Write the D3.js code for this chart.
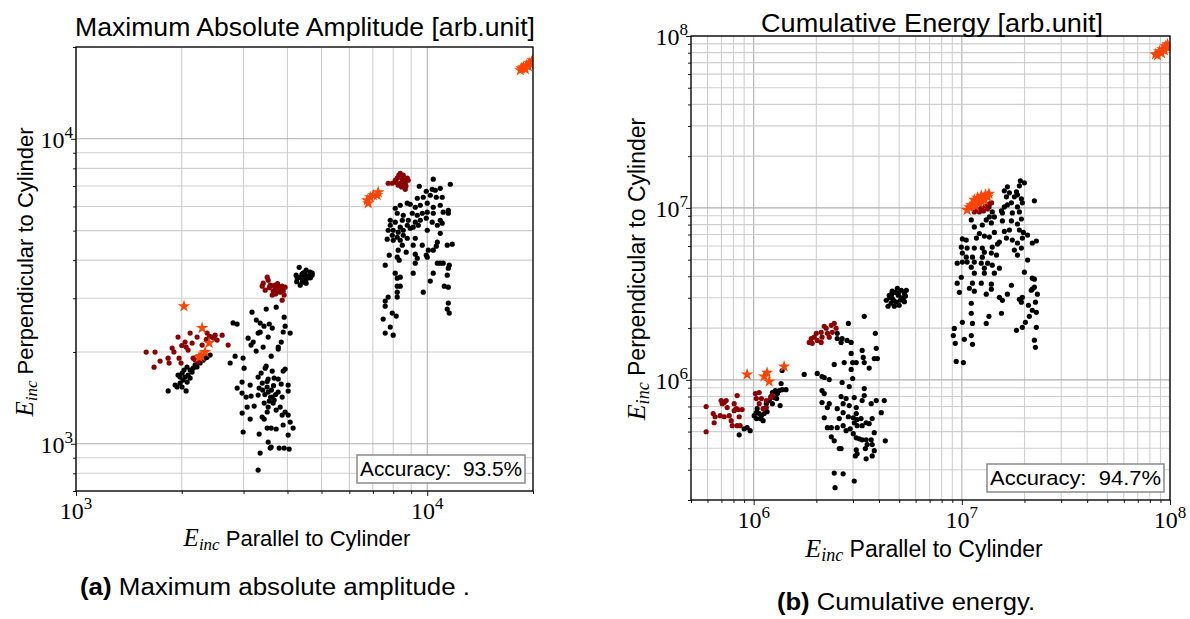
<!DOCTYPE html>
<html>
<head>
<meta charset="utf-8">
<script src="https://cdn.jsdelivr.net/npm/d3@7"></script>
<style>
    body { margin: 0; background: #fff; }
    .sans { font-family: "Liberation Sans", Arial, sans-serif; }
    .serif { font-family: "Liberation Serif", "DejaVu Serif", serif; }
</style>
</head>
<body>
<svg id="chart" width="1190" height="619"></svg>
<script>
// ---------- panel (a): maximum absolute amplitude ----------
const ampXTicks = [1e3, 1e4];
const ampYTicks = [1e3, 1e4];
const ampAccuracy = "Accuracy:  93.5%";

const ampBlack = [
    [2360,1920],[2300,1880],[2256,1840],[2210,1785],[2155,1770],[2113,1745],[2070,1785],[2030,1745],
    [2005,1705],[1978,1655],[2044,1655],[2085,1680],[2017,1617],[2072,1593],[1978,1580],[1940,1535],
    [2058,1490],[2004,1535],[1830,1490],[2140,1718],[2183,1811],[2226,1853],[1952,1680],[2113,1642],
    [1915,1557],[2331,1911],[2409,1953],
    [3170,2700],[3480,2765],[3715,2805],[3260,2545],[3344,2487],[3430,2430],[3550,2470],[3620,2395],
    [3915,2600],[3939,2430],[4071,2306],[3890,2325],[3344,2323],[3300,2306],[3525,2238],[3090,2220],
    [3195,2155],[3150,2106],[3840,2155],[3410,2075],[3765,2075],[3765,2044],[3257,2013],[2875,2468],
    [2838,1938],[2747,1840],[2990,1910],[3595,1938],[3010,1770],[3478,1797],[3456,1770],[3300,1654],
    [3366,1705],[3619,1731],[3888,1731],[3939,1757],[3665,1642],[3765,1630],[3525,1630],[2970,1593],
    [3132,1557],[3322,1523],[3390,1581],[3500,1534],[4018,1557],[3838,1569],[2876,1523],[2970,1466],
    [3152,1433],[3050,1423],[3300,1444],[3525,1477],[3619,1423],[3666,1391],[3763,1477],[4018,1488],
    [3863,1423],[3433,1360],[3525,1319],[3642,1360],[3813,1319],[3215,1329],[3071,1319],[3939,1271],
    [4018,1242],[3863,1242],[3714,1290],[3502,1271],[3389,1224],[2972,1261],[3132,1205],[3433,1205],
    [4071,1178],[4150,1126],[3888,1152],[3502,1126],[3595,1126],[3714,1118],[2991,1093],[3322,1076],
    [4018,1068],[3525,1013],[3595,976],[3571,968],[3788,968],[3914,968],[4044,961],[3344,932],
    [3300,820],[3500,1600],[3600,1500],[3450,1450],[3650,1550],[3550,1380],[3700,1450],[3400,1500],
    [3580,1420],[2800,2490],
    [4320,3790],[4520,3708],[4641,3653],[4700,3571],[4491,3571],[4347,3518],[4265,3492],[4405,3388],
    [4520,3363],[4347,3312],[4433,3439],[4550,3492],[4234,3571],[4703,3625],[4433,3625],[4600,3550],
    [4400,3600],[4500,3450],[4250,3400],[4650,3500],[4380,3500],[4480,3650],
    [10400,7370],[11630,7095],[9490,6990],[9935,6730],[10330,6830],[10540,6780],[10890,6880],[10200,6531],
    [10610,6433],[11030,6433],[9740,6433],[9365,6384],[8770,6150],[8944,6100],[10000,6150],[9552,6056],
    [9243,5965],[10400,5965],[10890,6056],[8376,6056],[8106,5920],[8213,5700],[8544,5615],[9063,5700],
    [9365,5615],[9678,5700],[10000,5745],[10400,5700],[11100,5745],[11480,5831],[11480,5700],[7845,5407],
    [8106,5330],[8490,5407],[8828,5407],[9243,5330],[9552,5407],[9935,5490],[10330,5330],[10890,5407],
    [7845,5207],[8376,5130],[8770,5207],[9120,5130],[9430,5207],[10680,5207],[11030,5290],[7740,5014],
    [8000,5014],[8265,4940],[8544,5014],[8944,5090],[10000,5014],[10890,4900],[7950,4828],[8213,4756],
    [8544,4828],[8770,4720],[7690,4685],[8000,4649],[8376,4649],[9243,4720],[10680,4580],[11400,4478],
    [11780,4512],[8490,4478],[9120,4478],[9678,4478],[10070,4312],[10610,4445],[10400,4312],[8265,4312],
    [8710,4248],[9243,4184],[7795,4152],[8213,4090],[9935,4152],[10000,4090],[9365,4060],[8320,3999],
    [9243,3910],[10680,3910],[10890,3910],[11100,3910],[11550,3851],[7591,3851],[11480,3765],[11400,3571],
    [10400,3625],[9120,3625],[8106,3625],[8376,3518],[8213,3492],[10200,3415],[8376,3287],[8213,3287],
    [11180,3287],[11480,3263],[9740,3142],[8213,3142],[8213,3027],[7740,3027],[7591,2937],[11480,2893],
    [7591,2827],[11400,2764],[11550,2682],[7950,2682],[8160,2622],[7490,2563],[7845,2413],[7591,2306],
    [8000,2271]
];

const ampDarkRed = [
    [1584,1998],[1679,1998],[1668,1783],[1735,1867],[1829,1909],[1841,1839],[1878,2059],[1952,2238],
    [1965,1909],[1991,1839],[2044,2155],[2058,2075],[2113,2306],[2141,2139],[2085,2028],[2155,1909],
    [2183,1881],[2212,2238],[2286,2106],[2362,2306],[2441,2238],[2489,2271],[2522,2188],[2606,2271],
    [2711,2106],[2226,1853],[2400,2250],[2470,2220],[2350,2200],[2000,2100],[1900,2000],
    [3502,3518],[3525,3439],[3411,3363],[3389,3287],[3571,3312],[3690,3312],[3763,3263],[3863,3287],
    [3939,3263],[3888,3166],[3813,3142],[3714,3166],[3619,3072],[3690,3214],[3863,2958],[3456,3190],
    [3914,3072],[3788,3190],[3642,3166],[3600,3300],[3750,3350],[3850,3220],[3550,3250],[3700,3100],
    [8376,7700],[8544,7596],[8770,7426],[8213,7426],[8106,7313],[8376,7150],[8656,7150],[8828,7313],
    [8544,7042],[8265,7042],[8656,6830],[7740,7150],[7950,7150],[8490,7370],[8300,7600],[8600,7300],
    [8450,6950],[8700,7000],[8150,7200]
];

const ampStars = [
    [2030,2826],[2286,2395],[2393,2139],[2271,1938],[2241,1924],[2331,1998],
    [6747,6289],[6880,6433],[7017,6531],[7252,6680],[7205,6531],[6790,6150],
    [18410,16770],[18770,17160],[19150,17420],[19530,17680],[19800,17820],[19020,16900],
    [19400,17290],[19930,18090],[18530,17030]
];

// ---------- panel (b): cumulative energy ----------
const energyXTicks = [1e6, 1e7, 1e8];
const energyYTicks = [1e6, 1e7, 1e8];
const energyAccuracy = "Accuracy:  94.7%";

const energyBlack = [
    [8.52e5,4.79e5],[9.00e5,5.19e5],[9.30e5,5.27e5],[9.62e5,5.06e5],[1.006e6,6.19e5],[1.03e6,6.44e5],
    [1.04e6,6.80e5],[1.063e6,6.36e5],[1.09e6,6.19e5],[1.11e6,5.79e5],[1.123e6,6.36e5],[1.136e6,6.80e5],
    [1.15e6,7.27e5],[1.187e6,7.57e5],[1.21e6,7.99e5],[1.23e6,8.43e5],[1.27e6,8.66e5],[1.30e6,8.32e5],
    [1.326e6,8.66e5],[1.37e6,8.77e5],[1.43e6,8.77e5],[1.34e6,7.08e5],[1.355e6,9.52e5],[1.23e6,7.27e5],
    [1.29e6,7.78e5],[1.03e6,5.95e5],[1.075e6,5.95e5],[1.16e6,6.53e5],[1.255e6,7.88e5],[1.37e6,1.133e6],
    [1.749e6,1.075e6],[2.02e6,1.09e6],[2.13e6,1.046e6],[2.183e6,1.032e6],[2.307e6,1.004e6],[2.66e6,9.65e5],
    [2.878e6,9.14e5],[2.99e6,1.018e6],[3.398e6,8.90e5],[2.13e6,8.66e5],[2.183e6,8.32e5],[2.13e6,7.37e5],
    [2.26e6,6.90e5],[2.63e6,7.99e5],[2.69e6,7.27e5],[2.78e6,7.78e5],[2.878e6,7.08e5],[3.042e6,7.88e5],
    [3.11e6,6.90e5],[3.398e6,8.10e5],[3.32e6,7.57e5],[3.67e6,7.27e5],[3.88e6,7.57e5],[4.10e6,6.44e5],
    [4.24e6,7.57e5],[2.183e6,6.02e5],[2.577e6,5.95e5],[2.69e6,6.44e5],[2.85e6,6.10e5],[3.01e6,6.02e5],
    [3.11e6,6.36e5],[3.14e6,5.87e5],[3.28e6,5.95e5],[3.47e6,5.63e5],[3.59e6,5.56e5],[3.71e6,5.95e5],
    [3.32e6,5.41e5],[3.14e6,5.41e5],[3.042e6,5.63e5],[2.26e6,5.27e5],[2.36e6,5.27e5],[2.52e6,5.27e5],
    [2.69e6,5.41e5],[2.78e6,5.06e5],[2.91e6,5.19e5],[3.01e6,4.86e5],[3.11e6,4.60e5],[3.215e6,4.54e5],
    [3.32e6,4.48e5],[3.47e6,4.48e5],[3.67e6,4.48e5],[3.796e6,4.93e5],[3.71e6,4.20e5],[3.51e6,4.20e5],
    [3.44e6,3.98e5],[3.796e6,3.87e5],[3.11e6,3.92e5],[3.14e6,3.71e5],[3.08e6,3.61e5],[3.47e6,3.47e5],
    [3.71e6,3.61e5],[2.36e6,4.66e5],[2.438e6,4.42e5],[2.63e6,3.98e5],[2.577e6,3.98e5],[4.29e6,4.42e5],
    [2.438e6,2.87e5],[2.69e6,2.84e5],[3.042e6,2.58e5],[2.46e6,2.36e5],[2.52e6,6.80e5],[2.307e6,7.27e5],
    [2.94e6,1.425e6],[2.94e6,1.15e6],[2.99e6,1.26e6],[2.81e6,1.696e6],[2.66e6,1.74e6],[2.52e6,1.74e6],
    [2.85e6,2.13e6],[3.398e6,2.34e6],[3.84e6,1.865e6],[3.88e6,1.525e6],[3.93e6,1.33e6],[3.796e6,1.33e6],
    [3.59e6,1.17e6],[3.32e6,1.483e6],[3.36e6,1.35e6],[3.11e6,1.26e6],[3.398e6,1.26e6],[2.723e6,1.26e6],
    [2.438e6,1.23e6],[2.94e6,1.65e6],[2.52e6,1.865e6],[2.63e6,1.65e6],
    [4.335e6,2.904e6],[4.481e6,3.105e6],[4.63e6,2.98e6],[4.79e6,3.23e6],[4.95e6,3.105e6],[5.12e6,3.32e6],
    [5.29e6,3.19e6],[5.41e6,3.32e6],[4.57e6,2.79e6],[4.84e6,2.83e6],[5.06e6,2.904e6],[5.23e6,2.98e6],
    [4.42e6,2.68e6],[4.74e6,2.68e6],[5.0e6,2.715e6],[5.36e6,3.07e6],[4.63e6,3.28e6],[4.9e6,3.41e6],
    [4.5e6,3.0e6],[4.7e6,2.9e6],[5.15e6,3.0e6],[4.95e6,3.2e6],[5.3e6,2.85e6],[4.6e6,3.15e6],
    [1.911e7,1.438e7],[1.997e7,1.40e7],[1.89e7,1.345e7],[1.60e7,1.257e7],[1.655e7,1.327e7],[1.83e7,1.24e7],
    [1.85e7,1.191e7],[1.788e7,1.16e7],[1.692e7,1.224e7],[1.637e7,1.16e7],[2.231e7,1.099e7],[1.932e7,1.129e7],
    [1.953e7,1.07e7],[1.73e7,1.07e7],[1.655e7,1.041e7],[1.85e7,1.013e7],[1.60e7,1.013e7],[1.55e7,9.6e6],
    [1.40e7,9.48e6],[1.35e7,1.013e7],[1.566e7,9.35e6],[1.748e7,9.35e6],[1.89e7,9.48e6],[1.433e7,8.86e6],
    [1.356e7,8.86e6],[1.31e7,8.51e6],[1.11e7,8.51e6],[1.566e7,8.4e6],[1.73e7,8.4e6],[1.932e7,8.62e6],
    [1.85e7,8.06e6],[1.386e7,8.18e6],[1.254e7,7.955e6],[1.148e7,7.75e6],[1.433e7,7.2e6],[1.60e7,7.3e6],
    [1.692e7,7.44e6],[1.89e7,7.44e6],[1.975e7,7.2e6],[2.07e7,6.954e6],[1.214e7,7.1e6],[1.283e7,6.86e6],
    [1.175e7,6.68e6],[1.006e7,6.6e6],[1.05e7,6.5e6],[1.356e7,6.77e6],[1.637e7,6.68e6],[1.748e7,6.5e6],
    [1.953e7,6.68e6],[1.515e7,6.33e6],[1.85e7,6.25e6],[2.18e7,6.25e6],[2.28e7,6.42e6],[9.94e6,5.92e6],
    [1.06e7,5.84e6],[1.148e7,5.84e6],[1.254e7,5.84e6],[1.40e7,5.92e6],[1.484e7,6.16e6],[1.932e7,5.84e6],
    [1.788e7,5.685e6],[1.283e7,5.53e6],[1.386e7,5.46e6],[1.006e7,5.46e6],[1.05e7,5.17e6],[1.125e7,5.17e6],
    [1.254e7,5.17e6],[1.467e7,5.315e6],[1.85e7,5.315e6],[9.5e6,4.77e6],[1.006e7,4.84e6],[1.06e7,4.84e6],
    [1.148e7,4.84e6],[1.24e7,4.77e6],[1.33e7,4.77e6],[2.07e7,4.97e6],[1.11e7,4.52e6],[1.283e7,4.46e6],
    [1.40e7,4.647e6],[1.515e7,4.46e6],[1.148e7,4.17e6],[1.283e7,4.17e6],[1.433e7,4.17e6],[1.997e7,4.23e6],
    [9.94e6,3.95e6],[2.18e7,3.9e6],[2.231e7,3.85e6],[9.5e6,3.65e6],[1.125e7,3.65e6],[1.24e7,3.65e6],
    [1.386e7,3.6e6],[1.73e7,3.55e6],[9.73e6,3.23e6],[1.087e7,3.41e6],[1.148e7,3.28e6],[1.386e7,3.37e6],
    [2.18e7,3.37e6],[2.231e7,3.46e6],[2.155e7,3.32e6],[2.306e7,3.15e6],[1.31e7,3.15e6],[1.515e7,3.02e6],
    [1.566e7,2.9e6],[1.655e7,3.15e6],[1.89e7,2.94e6],[1.953e7,3.02e6],[1.932e7,2.83e6],[1.11e7,2.79e6],
    [2.257e7,2.83e6],[2.09e7,2.715e6],[2.18e7,2.54e6],[2.28e7,2.47e6],[1.55e7,2.44e6],[1.35e7,2.34e6],
    [1.11e7,2.44e6],[2.11e7,2.34e6],[2.02e7,2.16e6],[1.006e7,2.16e6],[1.125e7,2.13e6],[1.31e7,2.13e6],
    [1.953e7,2.02e6],[2.28e7,2.02e6],[9.2e6,1.99e6],[1.83e7,1.94e6],[9.1e6,1.81e6],[1.11e7,1.81e6],
    [1.028e7,1.72e6],[2.231e7,1.70e6],[9.3e6,1.63e6],[1.125e7,1.61e6],[2.257e7,1.545e6],[9.4e6,1.28e6],
    [1.017e7,1.26e6]
];

const energyDarkRed = [
    [5.91e5,6.99e5],[5.91e5,4.99e5],[6.39e5,6.36e5],[6.46e5,5.63e5],[6.53e5,6.10e5],[6.98e5,7.57e5],
    [7.06e5,7.27e5],[6.91e5,6.19e5],[7.22e5,6.10e5],[7.38e5,7.57e5],[7.63e5,6.19e5],[7.46e5,6.90e5],
    [7.89e5,5.41e5],[7.80e5,5.79e5],[8.06e5,7.27e5],[8.24e5,6.80e5],[8.33e5,8.10e5],[8.52e5,6.10e5],
    [8.42e5,6.71e5],[8.61e5,5.41e5],[8.33e5,5.41e5],[8.80e5,6.71e5],[8.06e5,6.62e5],[7.22e5,7.37e5],
    [1.02e6,8.32e5],[1.063e6,8.43e5],[1.03e6,7.78e5],[1.09e6,7.78e5],[1.15e6,7.57e5],[1.21e6,7.88e5],
    [1.063e6,7.27e5],[1.15e6,6.90e5],[1.11e6,6.80e5],[1.23e6,8.10e5],
    [1.849e6,1.65e6],[1.91e6,1.63e6],[1.89e6,1.74e6],[2.00e6,1.865e6],[2.02e6,1.696e6],[2.11e6,1.89e6],
    [2.13e6,1.77e6],[2.23e6,1.995e6],[2.26e6,1.865e6],[2.36e6,2.075e6],[2.438e6,2.13e6],[2.49e6,1.995e6],
    [2.385e6,1.89e6],[2.307e6,1.77e6],[2.11e6,1.65e6],[2.183e6,2.05e6],[1.954e6,1.77e6],
    [1.19e7,9.73e6],[1.24e7,9.98e6],[1.30e7,1.025e7],[1.356e7,1.055e7],[1.27e7,9.6e6],[1.33e7,9.86e6],
    [1.214e7,9.48e6],[1.148e7,9.48e6],[1.39e7,1.07e7]
];

const energyStars = [
    [9.30e5,1.075e6],[1.123e6,1.046e6],[1.16e6,1.10e6],[1.187e6,9.77e5],[1.40e6,1.196e6],
    [1.06e7,9.73e6],[1.11e7,1.041e7],[1.148e7,1.114e7],[1.19e7,1.145e7],[1.24e7,1.177e7],[1.30e7,1.191e7],
    [1.33e7,1.16e7],[1.214e7,1.07e7],[1.283e7,1.114e7],[1.087e7,1.01e7],[1.16e7,1.025e7],[1.25e7,1.085e7],
    [1.35e7,1.208e7],
    [8.52e7,7.82e7],[8.90e7,8.14e7],[9.20e7,8.36e7],[9.52e7,8.71e7],[9.73e7,8.95e7],[9.10e7,7.93e7],
    [9.41e7,8.25e7],[9.83e7,8.59e7],[8.71e7,7.72e7]
];

const svg = d3.select("#chart");

function drawPanel(p) {
    const x = d3.scaleLog().domain(p.xDomain).range(p.xRange);
    const y = d3.scaleLog().domain(p.yDomain).range(p.yRange);
    const isMajor = v => Math.abs(Math.log10(v) - Math.round(Math.log10(v))) < 1e-9;
    const left = p.xRange[0], right = p.xRange[1], top = p.yRange[1], bottom = p.yRange[0];

    const g = svg.append("g");

    // grid, major and minor
    g.append("g").selectAll("line")
        .data(x.ticks())
        .enter().append("line")
        .attr("x1", d => x(d)).attr("x2", d => x(d))
        .attr("y1", top).attr("y2", bottom)
        .attr("stroke", d => isMajor(d) ? "#b0b0b0" : "#cecece")
        .attr("stroke-width", 1.1);

    g.append("g").selectAll("line")
        .data(y.ticks())
        .enter().append("line")
        .attr("x1", left).attr("x2", right)
        .attr("y1", d => y(d)).attr("y2", d => y(d))
        .attr("stroke", d => isMajor(d) ? "#b0b0b0" : "#cecece")
        .attr("stroke-width", 1.1);

    // points
    g.append("clipPath").attr("id", p.id + "-clip")
        .append("rect")
        .attr("x", left).attr("y", top)
        .attr("width", right - left).attr("height", bottom - top);

    const pts = g.append("g").attr("clip-path", `url(#${p.id}-clip)`);

    pts.selectAll("circle.black")
        .data(p.black)
        .enter().append("circle")
        .attr("class", "black")
        .attr("cx", d => x(d[0])).attr("cy", d => y(d[1]))
        .attr("r", 2.6)
        .attr("fill", "#000");

    pts.selectAll("circle.red")
        .data(p.darkRed)
        .enter().append("circle")
        .attr("class", "red")
        .attr("cx", d => x(d[0])).attr("cy", d => y(d[1]))
        .attr("r", 2.6)
        .attr("fill", "#8b0000");

    const star = d3.symbol().type(d3.symbolStar).size(48);
    pts.selectAll("path.star")
        .data(p.stars)
        .enter().append("path")
        .attr("class", "star")
        .attr("d", star)
        .attr("transform", d => `translate(${x(d[0])},${y(d[1])})`)
        .attr("fill", "#ff4500");

    // frame
    g.append("rect")
        .attr("x", left).attr("y", top)
        .attr("width", right - left).attr("height", bottom - top)
        .attr("fill", "none")
        .attr("stroke", "#000")
        .attr("stroke-width", 1.3);

    // tick marks
    const minorX = x.ticks().filter(d => !isMajor(d));
    const minorY = y.ticks().filter(d => !isMajor(d));
    [[d3.axisBottom(x).tickValues(p.xTicks).tickSize(5), "b"],
     [d3.axisBottom(x).tickValues(minorX).tickSize(3), "b"],
     [d3.axisLeft(y).tickValues(p.yTicks).tickSize(5), "l"],
     [d3.axisLeft(y).tickValues(minorY).tickSize(3), "l"]].forEach(([ax, side]) => {
        const a = g.append("g")
            .attr("transform", side === "b" ? `translate(0,${bottom})` : `translate(${left},0)`)
            .call(ax.tickFormat(""));
        a.select(".domain").remove();
        a.selectAll("line").attr("stroke", "#000").attr("stroke-width", 0.9);
    });

    // tick labels 10^k
    p.xTicks.forEach(v => {
        const t = g.append("text").attr("class", "serif")
            .attr("x", x(v)).attr("y", bottom + 28)
            .attr("text-anchor", "middle")
            .attr("font-size", 24)
            .text("10");
        t.append("tspan").attr("dy", -10).attr("font-size", 17).text(Math.round(Math.log10(v)));
    });
    p.yTicks.forEach(v => {
        const t = g.append("text").attr("class", "serif")
            .attr("x", left - 3).attr("y", y(v) + 9)
            .attr("text-anchor", "end")
            .attr("font-size", 24)
            .text("10");
        t.append("tspan").attr("dy", -10).attr("font-size", 17).text(Math.round(Math.log10(v)));
    });

    // axis labels
    const xl = g.append("text").attr("class", "sans")
        .attr("x", p.xLabel[0]).attr("y", p.xLabel[1])
        .attr("text-anchor", "middle")
        .attr("font-size", p.labelSize);
    xl.append("tspan").attr("class", "serif").attr("font-style", "italic").attr("font-size", p.labelSize + 3).text("E");
    xl.append("tspan").attr("class", "serif").attr("font-style", "italic").attr("font-size", p.labelSize - 5).attr("dy", 4).text("inc");
    xl.append("tspan").attr("dy", -4).text(" Parallel to Cylinder");

    const yl = g.append("text").attr("class", "sans")
        .attr("transform", `translate(${p.yLabel[0]},${p.yLabel[1]}) rotate(-90)`)
        .attr("text-anchor", "middle")
        .attr("font-size", p.labelSize);
    yl.append("tspan").attr("class", "serif").attr("font-style", "italic").attr("font-size", p.labelSize + 3).text("E");
    yl.append("tspan").attr("class", "serif").attr("font-style", "italic").attr("font-size", p.labelSize - 5).attr("dy", 4).text("inc");
    yl.append("tspan").attr("dy", -4).text(" Perpendicular to Cylinder");

    // title
    g.append("text").attr("class", "sans")
        .attr("x", p.title[1]).attr("y", p.title[2])
        .attr("text-anchor", "middle")
        .attr("font-size", 25)
        .attr("textLength", p.title[3])
        .attr("lengthAdjust", "spacingAndGlyphs")
        .text(p.title[0]);

    // accuracy box
    const bw = p.accW + 6, bh = 28;
    const bx = right - p.accPad[0] - bw, by = bottom - p.accPad[1] - bh;
    g.append("rect")
        .attr("x", bx).attr("y", by).attr("width", bw).attr("height", bh)
        .attr("fill", "#fff")
        .attr("stroke", "#8a8a8a")
        .attr("stroke-width", 1.5);
    g.append("text").attr("class", "sans")
        .attr("x", bx + 3).attr("y", by + 21)
        .attr("font-size", 21)
        .attr("textLength", p.accW)
        .attr("lengthAdjust", "spacingAndGlyphs")
        .style("white-space", "pre")
        .text(p.accuracy);

    // caption
    const c = g.append("text").attr("class", "sans")
        .attr("x", p.caption[2]).attr("y", p.caption[3])
        .attr("font-size", 23)
        .attr("textLength", p.caption[4])
        .attr("lengthAdjust", "spacingAndGlyphs");
    c.append("tspan").attr("font-weight", "bold").text(p.caption[0]);
    c.append("tspan").text(" " + p.caption[1]);
}

drawPanel({
    id: "amp",
    xDomain: [1e3, 2e4], xRange: [76, 533],
    yDomain: [700, 2e4], yRange: [491, 47],
    xTicks: ampXTicks, yTicks: ampYTicks,
    black: ampBlack, darkRed: ampDarkRed, stars: ampStars,
    labelSize: 22,
    xLabel: [297, 546], yLabel: [33, 272],
    title: ["Maximum Absolute Amplitude [arb.unit]", 305, 36, 460],
    accuracy: ampAccuracy, accW: 162, accPad: [8, 8],
    caption: ["(a)", "Maximum absolute amplitude .", 80, 595, 390]
});

drawPanel({
    id: "energy",
    xDomain: [5e5, 1e8], xRange: [691, 1170],
    yDomain: [2e5, 1e8], yRange: [500, 36],
    xTicks: energyXTicks, yTicks: energyYTicks,
    black: energyBlack, darkRed: energyDarkRed, stars: energyStars,
    labelSize: 23,
    xLabel: [924, 557], yLabel: [645, 269],
    title: ["Cumulative Energy [arb.unit]", 932, 32, 342],
    accuracy: energyAccuracy, accW: 171, accPad: [6, 8],
    caption: ["(b)", "Cumulative energy.", 777, 610, 258]
});
</script>
</body>
</html>
